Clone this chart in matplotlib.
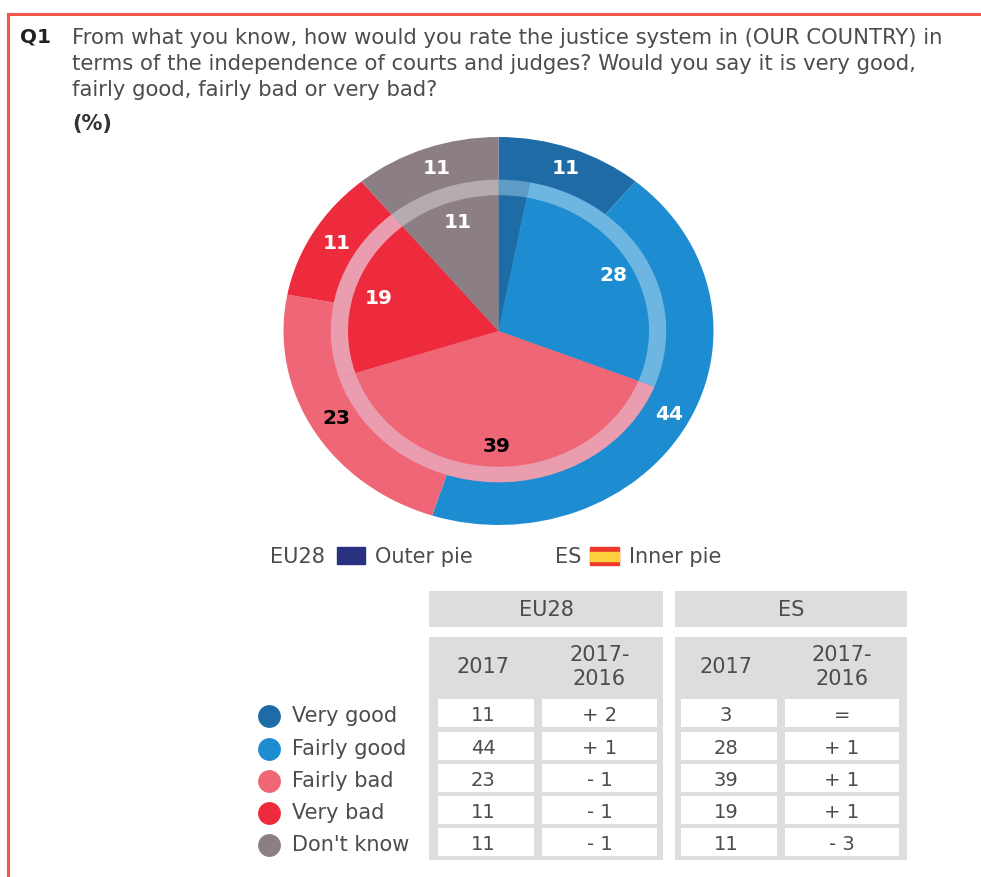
import matplotlib
matplotlib.use("Agg")
import matplotlib.pyplot as plt
from matplotlib.patches import Rectangle

plt.rcParams['font.family'] = ['DejaVu Sans']

# Survey answers, shares in percent
categories = ["Very good", "Fairly good", "Fairly bad", "Very bad", "Don't know"]
eu28_2017 = [11, 44, 23, 11, 11]
eu28_change = ["+ 2", "+ 1", "- 1", "- 1", "- 1"]
es_2017 = [3, 28, 39, 19, 11]
es_change = ["=", "+ 1", "+ 1", "+ 1", "- 3"]

question = ["From what you know, how would you rate the justice system in (OUR COUNTRY) in",
            "terms of the independence of courts and judges? Would you say it is very good,",
            "fairly good, fairly bad or very bad?"]

colors = ["#1f6ba6", "#1e8cd0", "#ef6676", "#ee2b3c", "#8b7f85"]
ring_colors = ["#5f9dc6", "#6db6e2", "#eb9db0", "#eb9db0", "#b5acb0"]
label_colors = ["white", "white", "black", "white", "white"]
text_color = "#4c4c4c"
table_grey = "#dcdddd"
body_size = 15

W, H = 981, 877
fig = plt.figure(figsize=(W / 100, H / 100), dpi=100)

# Page layer in pixel coordinates
ax = fig.add_axes([0, 0, 1, 1])
ax.set_xlim(0, W)
ax.set_ylim(H, 0)
ax.axis("off")

# Red frame, open on the right and at the bottom
ax.plot([8, 8, W], [H, 14, 14], color="#f0584c", lw=2.2, solid_joinstyle="miter")

ax.text(20, 37, "Q1", fontsize=14.4, fontweight="bold", color="#222222", va="center")
for i, line in enumerate(question):
    ax.text(72, 38 + i * 26, line, fontsize=15.2, color=text_color, va="center")
ax.text(72, 124, "(%)", fontsize=15, fontweight="bold", color="#333333", va="center")


def pie_label(p):
    # the 3 % slice is too small to carry a label
    return "" if round(p) < 5 else f"{round(p)}"


# Pies live in their own axes, stretched wider than tall
cx, cy, rx, ry = 498.5, 331, 215, 194
pie_ax = fig.add_axes([(cx - rx) / W, 1 - (cy + ry) / H, 2 * rx / W, 2 * ry / H])

_, _, outer_txt = pie_ax.pie(eu28_2017, colors=colors, startangle=90, counterclock=False,
                             radius=1.0, autopct=pie_label, pctdistance=0.89)
pie_ax.pie(es_2017, colors=ring_colors, startangle=90, counterclock=False, radius=0.78)
_, _, inner_txt = pie_ax.pie(es_2017, colors=colors, startangle=90, counterclock=False,
                             radius=0.70, autopct=pie_label, pctdistance=0.85)
for t, c in zip(list(outer_txt) + list(inner_txt), label_colors * 2):
    t.set(color=c, fontweight="bold", fontsize=14.5)
    # nudge the numbers a little to the right of the slice centre line
    x, y = t.get_position()
    t.set_position((x + 0.012, y))
pie_ax.set_aspect("auto")
pie_ax.set_xlim(-1, 1)
pie_ax.set_ylim(-1, 1)

# Key for the two pies, with small flags
ax.text(270, 557, "EU28", fontsize=body_size, color=text_color, va="center")
ax.add_patch(Rectangle((337, 547), 28, 17, color="#28307f"))
ax.text(375, 557, "Outer pie", fontsize=body_size, color=text_color, va="center")
ax.text(555, 557, "ES", fontsize=body_size, color=text_color, va="center")
ax.add_patch(Rectangle((590, 547), 29, 18, color="#ee3a2c"))
ax.add_patch(Rectangle((590, 551.5), 29, 9, color="#fbd03c"))
ax.text(629, 557, "Inner pie", fontsize=body_size, color=text_color, va="center")

# Table: grey blocks with white value cells
blocks = [(429, 663, "EU28", eu28_2017, eu28_change, (438, 534), (542, 657)),
          (675, 907, "ES", es_2017, es_change, (681, 777), (785, 899))]
row_y = [713, 746, 778, 810, 842]
for left, right, name, vals, changes, col1, col2 in blocks:
    mid1 = sum(col1) / 2 - 3
    mid2 = sum(col2) / 2
    ax.add_patch(Rectangle((left, 591), right - left, 36, color=table_grey, lw=0))
    ax.text((left + right) / 2, 610, name, fontsize=body_size, color=text_color, ha="center", va="center")
    ax.add_patch(Rectangle((left, 637), right - left, 223, color=table_grey, lw=0))
    ax.text(mid1, 667, "2017", fontsize=body_size, color=text_color, ha="center", va="center")
    ax.text(mid2, 667, "2017-\n2016", fontsize=body_size, color=text_color, ha="center",
            va="center", linespacing=1.2)
    for y, val, change in zip(row_y, vals, changes):
        ax.add_patch(Rectangle((col1[0], y - 14), col1[1] - col1[0], 28, color="white", lw=0))
        ax.add_patch(Rectangle((col2[0], y - 14), col2[1] - col2[0], 28, color="white", lw=0))
        ax.text(mid1, y + 2.5, str(val), fontsize=14, color=text_color, ha="center", va="center")
        ax.text(mid2, y + 2.5, change, fontsize=14, color=text_color, ha="center", va="center")

# Colour legend next to the table rows
for y, name, c in zip(row_y, categories, colors):
    ax.scatter([269], [y + 3], s=270, color=c, lw=0)
    ax.text(292, y + 3, name, fontsize=body_size, color=text_color, va="center")

fig.savefig("out.png", dpi=100)
